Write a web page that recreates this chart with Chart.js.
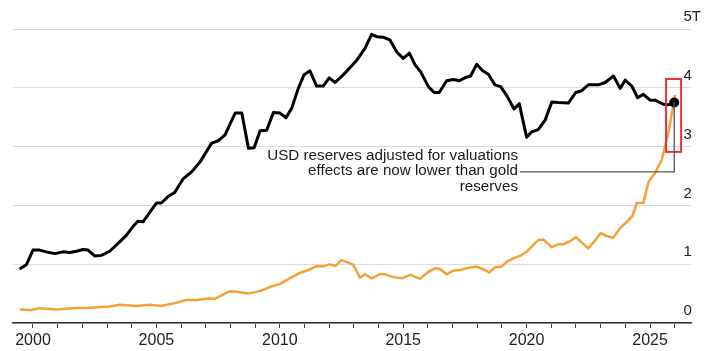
<!DOCTYPE html>
<html>
<head>
<meta charset="utf-8">
<script src="https://cdn.jsdelivr.net/npm/chart.js@4.4.1/dist/chart.umd.min.js"></script>
<style>
  html, body { margin: 0; padding: 0; background: #fff; }
  #wrap { width: 716px; height: 351px; position: relative; }
</style>
</head>
<body>
<div id="wrap"><canvas id="c" width="716" height="351"></canvas></div>
<script>
const usdYears = [1999.46,1999.73,2000.00,2000.27,2000.54,2000.88,2001.22,2001.49,2001.76,2002.03,2002.23,2002.50,2002.77,2003.11,2003.51,2003.78,2004.05,2004.25,2004.46,2004.73,2005.00,2005.20,2005.47,2005.74,2006.08,2006.43,2006.77,2007.24,2007.51,2007.78,2008.19,2008.46,2008.73,2008.96,2009.20,2009.47,2009.74,2010.01,2010.25,2010.48,2010.75,2010.98,2011.22,2011.49,2011.76,2012.00,2012.24,2012.57,2012.84,2013.12,2013.45,2013.72,2013.93,2014.19,2014.47,2014.74,2015.00,2015.25,2015.48,2015.71,2016.02,2016.25,2016.46,2016.76,2017.03,2017.27,2017.50,2017.73,2017.98,2018.22,2018.45,2018.72,2018.95,2019.22,2019.49,2019.70,2020.00,2020.20,2020.47,2020.75,2021.02,2021.28,2021.69,2021.99,2022.23,2022.50,2022.91,2023.18,2023.52,2023.79,2023.99,2024.26,2024.50,2024.73,2025.00,2025.20,2025.54,2025.74,2025.98];
const usdValues = [0.92,0.99,1.24,1.24,1.21,1.18,1.21,1.20,1.22,1.25,1.24,1.14,1.15,1.22,1.38,1.49,1.64,1.73,1.72,1.88,2.04,2.04,2.15,2.22,2.45,2.57,2.74,3.06,3.10,3.20,3.57,3.57,2.97,2.98,3.27,3.28,3.58,3.57,3.49,3.65,3.99,4.22,4.29,4.03,4.03,4.17,4.09,4.22,4.34,4.47,4.67,4.91,4.87,4.86,4.81,4.61,4.50,4.59,4.39,4.27,4.02,3.92,3.92,4.12,4.14,4.12,4.17,4.20,4.40,4.29,4.23,4.05,4.02,3.85,3.64,3.73,3.16,3.25,3.29,3.45,3.76,3.75,3.74,3.92,3.95,4.05,4.05,4.09,4.20,3.99,4.13,4.03,3.83,3.89,3.79,3.79,3.72,3.71,3.75];

const goldYears = [1999.46,1999.93,2000.27,2000.95,2001.62,2002.30,2003.11,2003.51,2004.19,2004.73,2005.20,2005.67,2006.21,2006.62,2007.16,2007.36,2007.97,2008.24,2008.71,2009.25,2009.66,2010.00,2010.40,2010.81,2011.21,2011.51,2011.75,2012.00,2012.26,2012.49,2012.76,2012.97,2013.25,2013.45,2013.72,2014.06,2014.26,2014.60,2014.94,2015.28,2015.68,2016.02,2016.29,2016.49,2016.76,2017.03,2017.30,2017.57,2017.98,2018.25,2018.49,2018.72,2018.99,2019.19,2019.46,2019.73,2020.00,2020.27,2020.47,2020.68,2021.02,2021.28,2021.49,2021.76,2022.00,2022.23,2022.50,2022.77,2023.00,2023.24,2023.51,2023.78,2024.06,2024.29,2024.46,2024.73,2024.94,2025.20,2025.47,2025.74,2025.92,2026.01];
const goldValues = [0.23,0.22,0.25,0.23,0.25,0.26,0.28,0.31,0.29,0.31,0.29,0.33,0.39,0.39,0.42,0.41,0.54,0.53,0.50,0.55,0.62,0.66,0.76,0.85,0.91,0.97,0.96,1.00,0.97,1.07,1.03,0.99,0.77,0.83,0.76,0.83,0.83,0.78,0.76,0.82,0.75,0.87,0.93,0.92,0.83,0.89,0.90,0.93,0.96,0.91,0.86,0.95,0.96,1.04,1.10,1.14,1.21,1.33,1.41,1.42,1.29,1.34,1.34,1.39,1.46,1.37,1.27,1.40,1.53,1.48,1.45,1.61,1.72,1.82,2.04,2.04,2.40,2.55,2.77,3.23,3.65,3.88];

const yTickValues = [0, 1, 2, 3, 4, 5];
const yTickLabels = ['0', '1', '2', '3', '4', '5T'];
const annotationLines = ['USD reserves adjusted for valuations', 'effects are now lower than gold', 'reserves'];

const toPoints = (xs, ys) => xs.map((x, i) => ({ x: x, y: ys[i] }));
const usdPoints = toPoints(usdYears, usdValues);
const goldPoints = toPoints(goldYears, goldValues);
const lastUsd = usdPoints[usdPoints.length - 1];

const FONT = '"Liberation Sans", Arial, sans-serif';

const annotationPlugin = {
  id: 'callout',
  afterDatasetsDraw(chart) {
    const { ctx, scales: { x, y } } = chart;
    ctx.save();
    // red highlight box
    ctx.strokeStyle = '#e2323a';
    ctx.lineWidth = 2;
    const bx1 = x.getPixelForValue(2025.65), bx2 = x.getPixelForValue(2026.26);
    const by1 = y.getPixelForValue(4.15), by2 = y.getPixelForValue(2.91);
    ctx.strokeRect(bx1, by1, bx2 - bx1, by2 - by1);
    // callout leader
    const dx = x.getPixelForValue(lastUsd.x), dy = y.getPixelForValue(lastUsd.y);
    const ly = y.getPixelForValue(2.57);
    const lx = x.getPixelForValue(2019.73);
    ctx.strokeStyle = '#555';
    ctx.lineWidth = 1.3;
    ctx.beginPath();
    ctx.moveTo(dx, dy);
    ctx.lineTo(dx, ly);
    ctx.lineTo(lx, ly);
    ctx.stroke();
    // text
    ctx.fillStyle = '#1a1a1a';
    ctx.font = '15.2px ' + FONT;
    ctx.textAlign = 'right';
    ctx.textBaseline = 'middle';
    const tx = x.getPixelForValue(2019.65);
    const tys = [2.84, 2.58, 2.32];
    annotationLines.forEach((t, i) => ctx.fillText(t, tx, y.getPixelForValue(tys[i])));
    ctx.restore();
  }
};

new Chart(document.getElementById('c'), {
  type: 'line',
  data: {
    datasets: [
      {
        label: 'dot',
        data: [lastUsd],
        borderColor: '#000',
        backgroundColor: '#000',
        pointRadius: 5,
        pointBorderWidth: 0,
        showLine: false
      },
      {
        label: 'Gold reserves',
        data: goldPoints,
        borderColor: '#f4a236',
        borderWidth: 2.5,
        pointRadius: 0,
        tension: 0,
        fill: false
      },
      {
        label: 'USD reserves',
        data: usdPoints,
        borderColor: '#000',
        borderWidth: 3,
        pointRadius: 0,
        tension: 0,
        fill: false,
        borderJoinStyle: 'round'
      }
    ]
  },
  options: {
    responsive: false,
    animation: false,
    events: [],
    layout: { padding: { left: 13, top: 29, right: 0, bottom: 0 } },
    plugins: { legend: { display: false }, tooltip: { enabled: false } },
    scales: {
      x: {
        type: 'linear',
        position: 'bottom',
        min: 1999.19,
        max: 2026.66,
        afterFit: (s) => { s.height = 28; },
        grid: { drawOnChartArea: false, drawTicks: true, tickLength: 5, color: '#444', lineWidth: 1 },
        border: { display: true, color: '#333', width: 1.5 },
        ticks: {
          stepSize: 1,
          includeBounds: false,
          autoSkip: false,
          maxRotation: 0,
          padding: 3,
          color: '#222',
          font: { family: FONT, size: 16 },
          callback: (v) => (Number.isInteger(v) && v % 5 === 0) ? String(v) : ''
        }
      },
      y: {
        position: 'right',
        min: 0,
        max: 5,
        afterFit: (s) => { s.width = 25; },
        afterBuildTicks: (s) => { s.ticks = yTickValues.map(v => ({ value: v })); },
        grid: { color: '#dcdcdc', lineWidth: 1, drawTicks: false },
        border: { display: false },
        ticks: {
          mirror: true,
          crossAlign: 'far',
          padding: 10,
          labelOffset: -12,
          color: '#222',
          font: { family: FONT, size: 15 },
          callback: (v) => yTickLabels[yTickValues.indexOf(v)]
        }
      }
    }
  },
  plugins: [annotationPlugin]
});
</script>
</body>
</html>
